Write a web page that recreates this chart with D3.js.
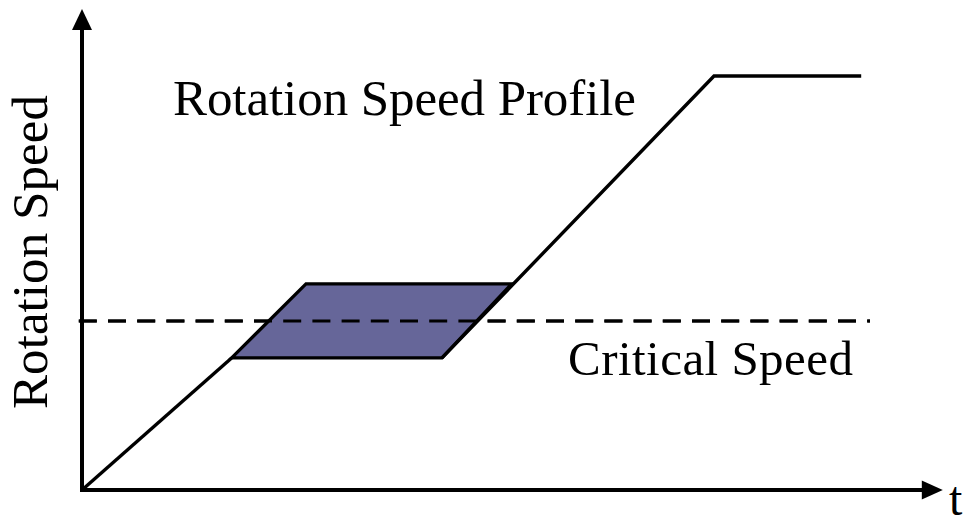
<!DOCTYPE html>
<html><head><meta charset="utf-8">
<script src="https://cdn.jsdelivr.net/npm/d3@7"></script>
<style>html,body{margin:0;padding:0;background:#fff;}svg{display:block;}</style>
</head><body>
<svg id="c" width="971" height="524"></svg>
<script>
// Data (arbitrary units: time 0..100, speed 0..100)
const rampInTime   = [0, 18.7];
const rampInSpeed  = [0, 31.9];
const rampOutTime  = [45, 79, 97.4];
const rampOutSpeed = [31.9, 100, 100];
const bandTime  = [18.7, 45, 53.7, 28];
const bandSpeed = [31.9, 31.9, 49.8, 49.8];
const criticalSpeed = 40.8;
const criticalTime = [-0.4, 98.5];
const axisMax = {time: 107.6, speed: 116.2};
const labels = {title: "Rotation Speed Profile", critical: "Critical Speed", y: "Rotation Speed", x: "t"};

const svg = d3.select("#c");
const x = d3.scaleLinear().domain([0, 100]).range([82, 882]);
const y = d3.scaleLinear().domain([0, 100]).range([490, 76]);
const font = "'Liberation Serif','Times New Roman',serif";
const line = d3.line();

// critical dashed line
svg.append("line")
  .attr("x1", x(criticalTime[0])).attr("x2", x(criticalTime[1]))
  .attr("y1", y(criticalSpeed)).attr("y2", y(criticalSpeed))
  .attr("stroke", "#000").attr("stroke-width", 3)
  .attr("stroke-dasharray", "18,11.2");

// band (parallelogram), semi-transparent fill shows dashes through
const band = bandTime.map((t, i) => [x(t), y(bandSpeed[i])]);
svg.append("path")
  .attr("d", line(band) + "Z")
  .attr("fill", "#666699")
  .attr("stroke", "#000").attr("stroke-width", 3.2).attr("stroke-linejoin", "miter");
// dashes visible over band
svg.append("line")
  .attr("x1", x(criticalTime[0])).attr("x2", x(criticalTime[1]))
  .attr("y1", y(criticalSpeed)).attr("y2", y(criticalSpeed))
  .attr("stroke", "#000").attr("stroke-width", 3)
  .attr("stroke-dasharray", "18,11.2");

// profile
svg.append("path")
  .attr("d", line(rampInTime.map((t, i) => [x(t), y(rampInSpeed[i])])))
  .attr("fill", "none").attr("stroke", "#000").attr("stroke-width", 3.4);
svg.append("path")
  .attr("d", line(rampOutTime.map((t, i) => [x(t), y(rampOutSpeed[i])])))
  .attr("fill", "none").attr("stroke", "#000").attr("stroke-width", 3.4);

// axes
const x0 = x(0), y0 = y(0);
const yTip = y(axisMax.speed), xTip = x(axisMax.time);
svg.append("line").attr("x1", x0).attr("x2", x0).attr("y1", y0 + 2).attr("y2", yTip + 18)
  .attr("stroke", "#000").attr("stroke-width", 4);
svg.append("line").attr("x1", x0 - 2).attr("x2", xTip - 18).attr("y1", y0).attr("y2", y0)
  .attr("stroke", "#000").attr("stroke-width", 4);
svg.append("path")
  .attr("d", `M${x0},${yTip} L${x0 - 10},${yTip + 21} L${x0 + 10},${yTip + 21} Z`)
  .attr("fill", "#000");
svg.append("path")
  .attr("d", `M${xTip},${y0} L${xTip - 21},${y0 - 9.5} L${xTip - 21},${y0 + 9.5} Z`)
  .attr("fill", "#000");

// texts
svg.append("text").attr("x", 173).attr("y", 115)
  .attr("font-family", font).attr("font-size", 51)
  .attr("textLength", 463).attr("lengthAdjust", "spacing")
  .text(labels.title);
svg.append("text").attr("x", 568).attr("y", 375)
  .attr("font-family", font).attr("font-size", 49)
  .attr("textLength", 285).attr("lengthAdjust", "spacing")
  .text(labels.critical);
svg.append("text")
  .attr("transform", "translate(47,252) rotate(-90)")
  .attr("text-anchor", "middle")
  .attr("font-family", font).attr("font-size", 51)
  .attr("textLength", 314).attr("lengthAdjust", "spacing")
  .text(labels.y);
svg.append("text").attr("x", 949).attr("y", 515)
  .attr("font-family", font).attr("font-size", 48)
  .text(labels.x);
</script>
</body></html>
